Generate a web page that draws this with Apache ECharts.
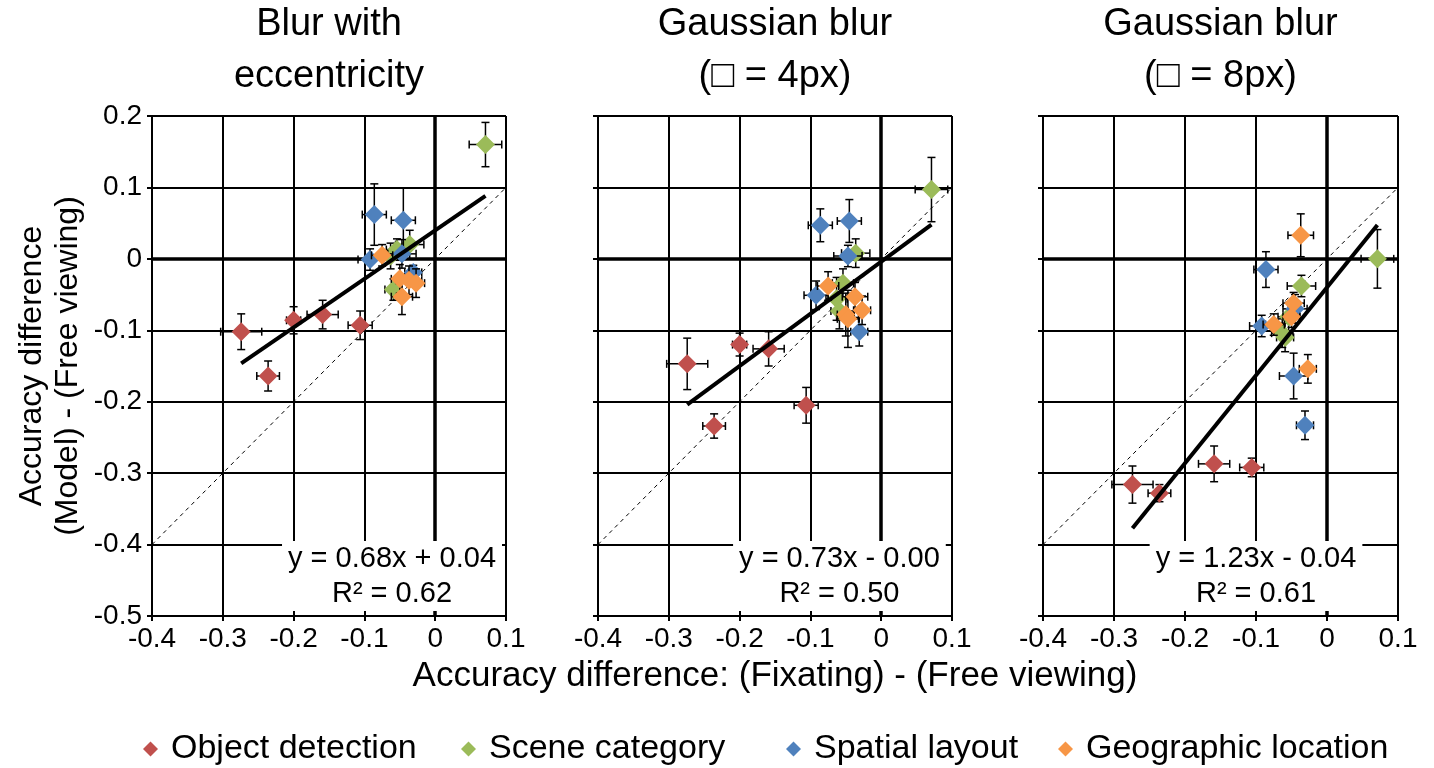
<!DOCTYPE html>
<html>
<head>
<meta charset="utf-8">
<script src="https://cdn.jsdelivr.net/npm/echarts@6/dist/echarts.min.js"></script>
<style>
  html, body { margin: 0; padding: 0; background: #fff; }
  #chart { width: 1434px; height: 768px; }
</style>
</head>
<body>
<div id="chart"></div>
<script>
const FONT = '"Liberation Sans", Arial, sans-serif';

const panelTitles = ['Blur with\neccentricity', 'Gaussian blur\n(\u25A1 = 4px)', 'Gaussian blur\n(\u25A1 = 8px)'];
const categories = ['Object detection', 'Scene category', 'Spatial layout', 'Geographic location'];
const colors = ['#C0504D', '#9BBB59', '#4F81BD', '#F79646'];

// x = (Fixating) - (Free viewing), shared by the three panels
const objectX = [-0.274, -0.236, -0.200, -0.159, -0.106];
const objectXErr = [0.029, 0.016, 0.010, 0.022, 0.017];
const objectY = [
  [-0.102, -0.164, -0.086, -0.078, -0.093],
  [-0.147, -0.234, -0.120, -0.126, -0.205],
  [-0.316, -0.328, null, -0.287, -0.292]
];
const objectYErr = [
  [0.025, 0.021, 0.019, 0.020, 0.020],
  [0.036, 0.017, 0.016, 0.024, 0.025],
  [0.026, 0.012, 0.020, 0.025, 0.013]
];

const sceneX = [0.071, -0.036, -0.054, -0.063, -0.059];
const sceneXErr = [0.023, 0.020, 0.015, 0.015, 0.012];
const sceneY = [
  [0.160, 0.020, 0.013, 0.004, -0.043],
  [0.097, 0.008, -0.034, -0.056, -0.073],
  [0.000, -0.038, -0.081, -0.104, -0.110]
];
const sceneYErr = [
  [0.031, 0.020, 0.015, 0.018, 0.015],
  [0.045, 0.020, 0.020, 0.030, 0.025],
  [0.041, 0.015, 0.020, 0.020, 0.020]
];

const spatialX = [-0.086, -0.045, -0.092, -0.047, -0.031];
const spatialXErr = [0.017, 0.017, 0.017, 0.020, 0.012];
const spatialY = [
  [0.062, 0.054, -0.001, 0.007, -0.019],
  [0.047, 0.053, -0.051, 0.004, -0.102],
  [-0.015, -0.070, -0.094, -0.164, -0.233]
];
const spatialYErr = [
  [0.043, 0.045, 0.015, 0.020, 0.010],
  [0.023, 0.030, 0.020, 0.015, 0.020],
  [0.025, 0.020, 0.015, 0.032, 0.020]
];

const geoX = [-0.075, -0.050, -0.037, -0.027, -0.047];
const geoXErr = [0.015, 0.012, 0.018, 0.012, 0.015];
const geoY = [
  [0.005, -0.028, -0.030, -0.034, -0.053],
  [-0.038, -0.078, -0.053, -0.072, -0.084],
  [-0.092, -0.081, 0.033, -0.154, -0.062]
];
const geoYErr = [
  [0.015, 0.020, 0.020, 0.020, 0.025],
  [0.020, 0.030, 0.020, 0.020, 0.040],
  [0.015, 0.015, 0.030, 0.020, 0.015]
];

// linear trendlines (y = slope * x + intercept) and their R²
const trendSlope = [0.68, 0.73, 1.23];
const trendIntercept = [0.04, -0.004, -0.04];
const trendR2 = ['0.62', '0.50', '0.61'];
const trendText = ['y = 0.68x + 0.04', 'y = 0.73x - 0.00', 'y = 1.23x - 0.04'];

const xTicks = [-0.4, -0.3, -0.2, -0.1, 0, 0.1];
const yTicks = [-0.5, -0.4, -0.3, -0.2, -0.1, 0, 0.1, 0.2];

const catX = [objectX, sceneX, spatialX, geoX];
const catXErr = [objectXErr, sceneXErr, spatialXErr, geoXErr];
const catY = [objectY, sceneY, spatialY, geoY];
const catYErr = [objectYErr, sceneYErr, spatialYErr, geoYErr];

// layout
const gridLefts = [152, 598, 1043];
const gridWidths = [354, 354, 355];
const eqAnchor = [[-0.061, -0.444], [-0.059, -0.444], [-0.100, -0.444]];

const chart = echarts.init(document.getElementById('chart'));

function tickFmt(v) {
  if (Math.abs(v) < 1e-9) return '0';
  return String(+v.toFixed(1));
}

function renderErrorBars(params, api) {
  const x = api.value(0), y = api.value(1), ex = api.value(2), ey = api.value(3);
  const l = api.coord([x - ex, y]), r = api.coord([x + ex, y]);
  const t = api.coord([x, y + ey]), b = api.coord([x, y - ey]);
  const cap = 4;
  const st = { stroke: '#000', lineWidth: 1.5 };
  const seg = (x1, y1, x2, y2) => ({ type: 'line', shape: { x1, y1, x2, y2 }, style: st });
  return {
    type: 'group',
    children: [
      seg(l[0], l[1], r[0], r[1]),
      seg(l[0], l[1] - cap, l[0], l[1] + cap),
      seg(r[0], r[1] - cap, r[0], r[1] + cap),
      seg(t[0], t[1], b[0], b[1]),
      seg(t[0] - cap, t[1], t[0] + cap, t[1]),
      seg(b[0] - cap, b[1], b[0] + cap, b[1])
    ]
  };
}

// equation box, white background over the grid
function makeEquationRenderer(text) {
  return function (params, api) {
    const c = api.coord([api.value(0), api.value(1)]);
    return {
      type: 'text', x: c[0], y: c[1],
      style: {
        text: text, fill: '#000', align: 'center', verticalAlign: 'middle',
        font: '29px ' + FONT, lineHeight: 35,
        backgroundColor: '#fff', padding: [0, 6]
      }
    };
  };
}

const grids = [], xAxes = [], yAxes = [], series = [], graphics = [];

for (let p = 0; p < 3; p++) {
  grids.push({ left: gridLefts[p], width: gridWidths[p], top: 116, height: 500 });

  xAxes.push({
    type: 'value', gridIndex: p,
    min: xTicks[0], max: xTicks[xTicks.length - 1], interval: 0.1,
    axisLine: { show: true, onZero: false, lineStyle: { color: '#000', width: 2 } },
    axisTick: { show: true, length: 5, lineStyle: { color: '#000', width: 2 } },
    axisLabel: { formatter: tickFmt, color: '#000', fontSize: 28, fontFamily: FONT, margin: 9 },
    splitLine: { show: true, lineStyle: { color: '#000', width: 2 } },
    name: p === 1 ? 'Accuracy difference: (Fixating) - (Free viewing)' : '',
    nameLocation: 'middle', nameGap: 43,
    nameTextStyle: { color: '#000', fontSize: 35, fontFamily: FONT }
  });

  yAxes.push({
    type: 'value', gridIndex: p,
    min: yTicks[0], max: yTicks[yTicks.length - 1], interval: 0.1,
    axisLine: { show: true, onZero: false, lineStyle: { color: '#000', width: 2 } },
    axisTick: { show: true, length: 5, lineStyle: { color: '#000', width: 2 } },
    axisLabel: { show: p === 0, formatter: tickFmt, color: '#000', fontSize: 28, fontFamily: FONT, margin: 10 },
    splitLine: { show: true, lineStyle: { color: '#000', width: 2 } },
    name: p === 0 ? 'Accuracy difference\n(Model) - (Free viewing)' : '',
    nameLocation: 'middle', nameRotate: 90, nameGap: 66,
    nameTextStyle: { color: '#000', fontSize: 32, lineHeight: 36, fontFamily: FONT }
  });

  // thick zero lines
  series.push({
    type: 'line', xAxisIndex: p, yAxisIndex: p, data: [], silent: true, z: 1,
    markLine: {
      silent: true, symbol: ['none', 'none'], label: { show: false },
      lineStyle: { color: '#000', width: 3.5, type: 'solid' },
      data: [{ xAxis: 0 }, { yAxis: 0 }]
    }
  });

  // y = x reference
  series.push({
    type: 'line', xAxisIndex: p, yAxisIndex: p, silent: true, z: 2,
    symbol: 'none',
    lineStyle: { color: '#000', width: 1, type: [4, 4] },
    data: [[xTicks[0], xTicks[0]], [xTicks[xTicks.length - 1], xTicks[xTicks.length - 1]]]
  });

  // points with error bars
  let allX = [];
  for (let c = 0; c < 4; c++) {
    const pts = [], errs = [];
    catX[c].forEach((x, i) => {
      const y = catY[c][p][i];
      if (y === null) return;
      pts.push([x, y]);
      errs.push([x, y, catXErr[c][i], catYErr[c][p][i]]);
      allX.push(x);
    });
    series.push({
      type: 'custom', xAxisIndex: p, yAxisIndex: p, silent: true, z: 3 + c * 2,
      renderItem: renderErrorBars, data: errs
    });
    series.push({
      name: categories[c], type: 'scatter', xAxisIndex: p, yAxisIndex: p, z: 4 + c * 2,
      symbol: 'diamond', symbolSize: 19,
      itemStyle: { color: colors[c], opacity: 1 },
      data: pts
    });
  }

  // trendline across the x range of the panel's points
  const xMin = Math.min(...allX), xMax = Math.max(...allX);
  series.push({
    type: 'line', xAxisIndex: p, yAxisIndex: p, silent: true, z: 12,
    symbol: 'none',
    lineStyle: { color: '#000', width: 4 },
    data: [xMin, xMax].map(x => [x, trendSlope[p] * x + trendIntercept[p]])
  });

  // trendline equation
  series.push({
    type: 'custom', xAxisIndex: p, yAxisIndex: p, silent: true, z: 14,
    renderItem: makeEquationRenderer(trendText[p] + '\nR\u00B2 = ' + trendR2[p]),
    data: [eqAnchor[p]]
  });

  graphics.push({
    type: 'text',
    x: gridLefts[p] + gridWidths[p] / 2, y: -1,
    style: {
      text: panelTitles[p], fill: '#000', align: 'center', verticalAlign: 'top',
      font: '38px ' + FONT, lineHeight: 52
    }
  });
}

const legendLefts = [138, 456, 781, 1053];
const legends = categories.map((name, i) => ({
  data: [name], left: legendLefts[i], top: 727,
  icon: 'diamond', itemWidth: 15, itemHeight: 15, itemGap: 0,
  selectedMode: false,
  textStyle: { color: '#000', fontSize: 34, fontFamily: FONT, padding: [0, 0, 0, 8] }
}));

chart.setOption({
  backgroundColor: '#fff',
  animation: false,
  grid: grids,
  xAxis: xAxes,
  yAxis: yAxes,
  legend: legends,
  graphic: graphics,
  series: series
});
</script>
</body>
</html>
